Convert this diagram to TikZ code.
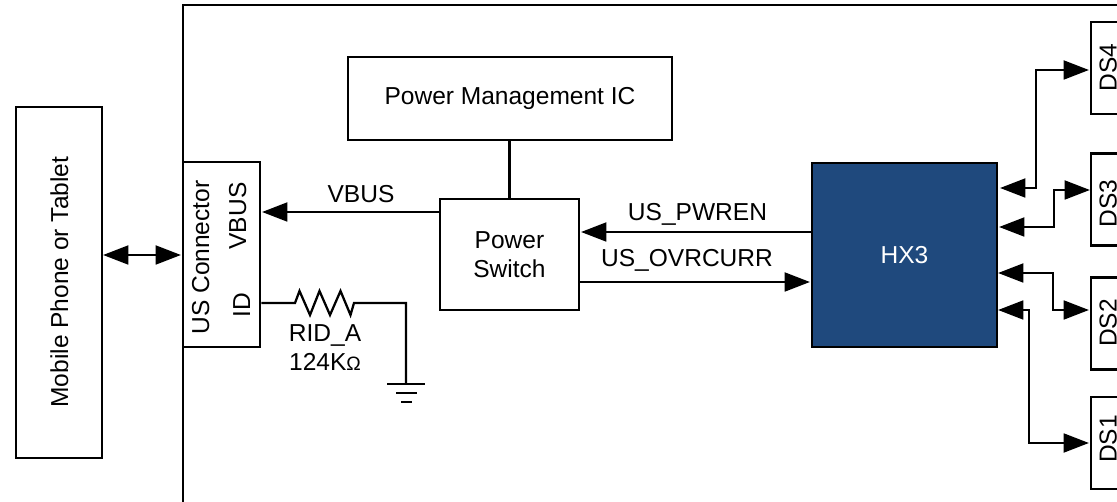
\documentclass[tikz,border=0pt]{standalone}
\usepackage{fontspec}
\setmainfont{Liberation Sans}
\usetikzlibrary{arrows.meta}
\definecolor{hxblue}{HTML}{1F497D}
\tikzset{
  box/.style n args={2}{draw=black,line width=2.2pt,fill=white,inner sep=0pt,minimum width=#1*0.75pt,minimum height=#2*0.75pt},
  lbl/.style={inner sep=0pt,font=\fontsize{18.4pt}{21.75pt}\selectfont,align=center},
  blbl/.style={lbl,anchor=base},
  vlbl/.style={lbl,rotate=90,anchor=base},
  wire/.style={line width=2.2pt},
  thin wire/.style={line width=1.7pt},
  sig/.style={wire,-{Triangle[length=19pt,width=14pt]}},
  bisig/.style={wire,{Triangle[length=19pt,width=14pt]}-{Triangle[length=19pt,width=14pt]}},
}
\begin{document}
\begin{tikzpicture}[x=0.75pt,y=-0.75pt]
\useasboundingbox (0,0) rectangle (1117,502);
\clip (0,0) rectangle (1117,502);
% frame
\coordinate (fb) at (183,510);
\coordinate (ftl) at (183,5);
\coordinate (ftr) at (1125,5);
\draw[wire] (fb) -- (ftl) -- (ftr);
% boxes
\node[box={86}{351}] (phone) at (59,282.5) {};
\node[vlbl] (phonet) at (68,282) {Mobile Phone or Tablet};
\node[box={77}{185}] (conn) at (221.5,254.5) {};
\node[vlbl] (connt) at (209,257.5) {US Connector};
\node[vlbl] (vbust) at (246,216) {VBUS};
\node[vlbl] (idt) at (250,305) {ID};
\node[box={324}{83},lbl] (pmic) at (510,98.5) {Power Management IC};
\node[box={139}{111},lbl] (sw) at (509.5,254.5) {Power\\Switch};
\node[box={185}{184},fill=hxblue,text=white,lbl] (hx) at (904.5,255) {HX3};
\node[box={60}{92}] (ds4) at (1121,68) {};
\node[box={60}{92}] (ds3) at (1121,199.5) {};
\node[box={60}{92}] (ds2) at (1121,323.5) {};
\node[box={60}{92}] (ds1) at (1121,443) {};
\node[vlbl] (ds4t) at (1116.5,67.5) {DS4};
\node[vlbl] (ds3t) at (1116.5,203.5) {DS3};
\node[vlbl] (ds2t) at (1116.5,323) {DS2};
\node[vlbl] (ds1t) at (1116.5,439) {DS1};
% left connectors
\coordinate (pa) at (103,255);
\coordinate (pb) at (181,255);
\draw[bisig] (pa) -- (pb);
\draw[wire] (pmic.south -| sw.north) -- (sw.north);
\coordinate (vb) at (440,212);
\coordinate (vbt) at (262,212);
\draw[sig] (vb) -- (vbt);
\node[blbl] (vbl) at (361,203) {VBUS};
\coordinate (pw) at (812,232);
\coordinate (pwt) at (581,232);
\draw[sig] (pw) -- (pwt);
\node[blbl] (pwl) at (697.5,221) {US\_PWREN};
\coordinate (oc) at (579,282);
\coordinate (oct) at (810,282);
\draw[sig] (oc) -- (oct);
\node[blbl] (ocl) at (687,267) {US\_OVRCURR};
% resistor and ground
\coordinate (rl) at (295,303);
\coordinate (rr) at (354,303);
\coordinate (gt) at (406,384);
\coordinate (g1l) at (387,384); \coordinate (g1r) at (425,384);
\coordinate (g2l) at (396,393); \coordinate (g2r) at (417,393);
\coordinate (g3l) at (401,402); \coordinate (g3r) at (412,402);
\draw[thin wire] (conn.east |- rl) -- (rl) -- (299.5,291) -- (310,315) -- (319.5,291) -- (330,315) -- (340.5,291) -- (350.5,315) -- (rr) -- (gt |- rr) -- (gt);
\draw[thin wire] (g1l) -- (g1r);
\draw[thin wire] (g2l) -- (g2r);
\draw[line width=2.2pt] (g3l) -- (g3r);
\node[blbl] (rid) at (325,341) {RID\_A};
\node[blbl] (rv) at (325,370) {124K{\fontsize{14.5pt}{14.5pt}\selectfont Ω}};
% HX3 to DS
\coordinate (a4) at (1000,188);
\coordinate (b4) at (1036,188);
\coordinate (c4) at (1036,70);
\coordinate (d4) at (1089,70);
\draw[bisig] (a4) -- (b4) -- (c4) -- (d4);
\coordinate (a3) at (999,227);
\coordinate (b3) at (1054,227);
\coordinate (c3) at (1054,190);
\coordinate (d3) at (1090,190);
\draw[bisig] (a3) -- (b3) -- (c3) -- (d3);
\coordinate (a2) at (998,273);
\coordinate (b2) at (1053,273);
\coordinate (c2) at (1053,310);
\coordinate (d2) at (1089,310);
\draw[bisig] (a2) -- (b2) -- (c2) -- (d2);
\coordinate (a1) at (998,310);
\coordinate (b1) at (1029,310);
\coordinate (c1) at (1029,443);
\coordinate (d1) at (1089,443);
\draw[bisig] (a1) -- (b1) -- (c1) -- (d1);
\end{tikzpicture}
\end{document}
